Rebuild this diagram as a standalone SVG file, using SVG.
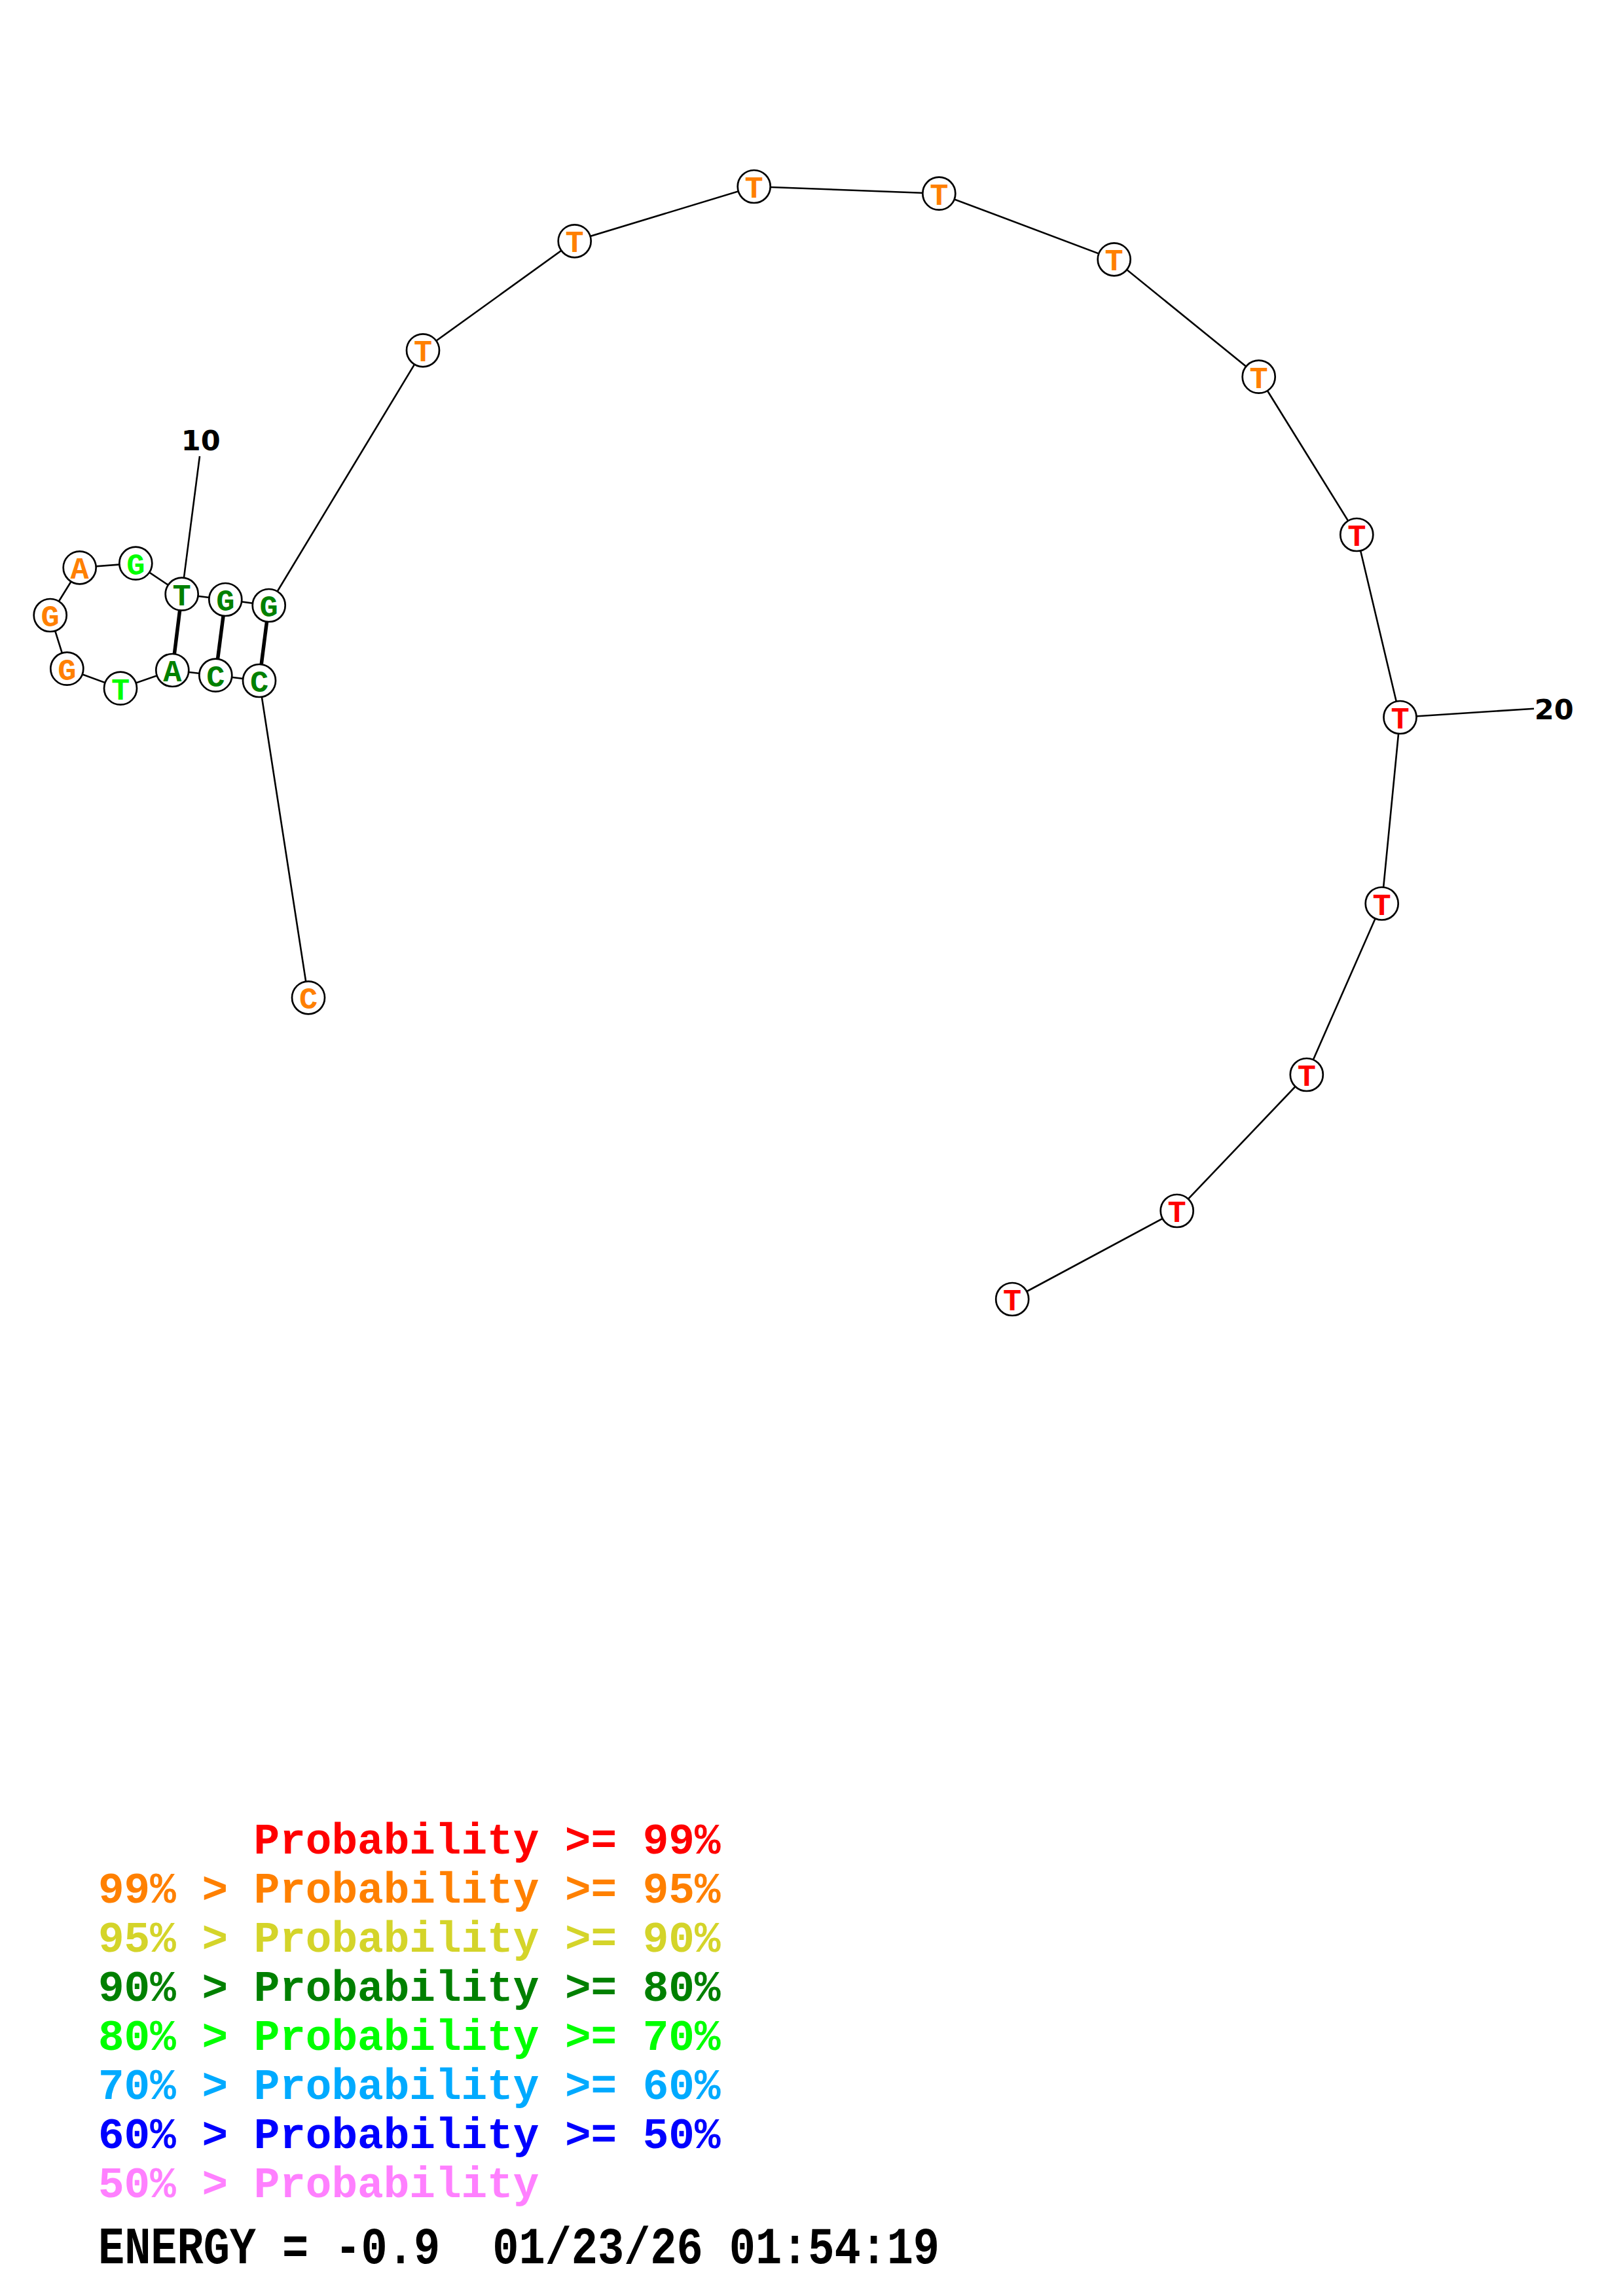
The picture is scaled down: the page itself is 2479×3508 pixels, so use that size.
<svg xmlns="http://www.w3.org/2000/svg" width="2479" height="3508" viewBox="0 0 2479 3508">
<style>
.bb{stroke:#000;stroke-width:2.6;fill:none}
.bp{stroke:#000;stroke-width:5.5;fill:none}
.nd circle{fill:#fff;stroke:#000;stroke-width:2.7}
.nd text{font-family:"Liberation Mono",monospace;font-weight:bold;font-size:47px;text-anchor:middle}
.num{font-family:"DejaVu Sans",sans-serif;font-weight:bold;font-size:43px;text-anchor:middle;fill:#000}
.lg{font-family:"Liberation Mono",monospace;font-weight:bold;font-size:66px}
.or{fill:#FF8000}.dg{fill:#008000}.lgn{fill:#00FF00}.rd{fill:#FF0000}
</style>
<rect width="2479" height="3508" fill="#fff"/>
<g id="connectors">
<polyline class="bb" points="471,1524.3 396,1040 329.3,1031.7 263.3,1024 184,1051.7 102.3,1021.7 76.7,940 121.7,867.3 207.3,860.7 277.7,907.7 344.3,916 410.7,925 646,535.3 877.7,368.3 1151.7,285 1434.3,295.7 1701.7,396.3 1922.7,575.7 2072.3,817 2138.5,1096 2110.7,1380.5 1995.8,1642 1797.7,1850 1546.2,1985"/>
<line class="bp" x1="277.7" y1="907.7" x2="263.3" y2="1024"/>
<line class="bp" x1="344.3" y1="916" x2="329.3" y2="1031.7"/>
<line class="bp" x1="410.7" y1="925" x2="396" y2="1040"/>
<line class="bb" x1="277.7" y1="907.7" x2="305" y2="697"/>
<line class="bb" x1="2138.5" y1="1096" x2="2343" y2="1082.7"/>
</g>
<g id="n1" class="nd"><circle cx="471" cy="1524.3" r="25"/><text x="471" y="1541.3" class="or">C</text></g>
<g id="n2" class="nd"><circle cx="396" cy="1040" r="25"/><text x="396" y="1057" class="dg">C</text></g>
<g id="n3" class="nd"><circle cx="329.3" cy="1031.7" r="25"/><text x="329.3" y="1048.7" class="dg">C</text></g>
<g id="n4" class="nd"><circle cx="263.3" cy="1024" r="25"/><text x="263.3" y="1041" class="dg">A</text></g>
<g id="n5" class="nd"><circle cx="184" cy="1051.7" r="25"/><text x="184" y="1068.7" class="lgn">T</text></g>
<g id="n6" class="nd"><circle cx="102.3" cy="1021.7" r="25"/><text x="102.3" y="1038.7" class="or">G</text></g>
<g id="n7" class="nd"><circle cx="76.7" cy="940" r="25"/><text x="76.7" y="957" class="or">G</text></g>
<g id="n8" class="nd"><circle cx="121.7" cy="867.3" r="25"/><text x="121.7" y="884.3" class="or">A</text></g>
<g id="n9" class="nd"><circle cx="207.3" cy="860.7" r="25"/><text x="207.3" y="877.7" class="lgn">G</text></g>
<g id="n10" class="nd"><circle cx="277.7" cy="907.7" r="25"/><text x="277.7" y="924.7" class="dg">T</text></g>
<g id="n11" class="nd"><circle cx="344.3" cy="916" r="25"/><text x="344.3" y="933" class="dg">G</text></g>
<g id="n12" class="nd"><circle cx="410.7" cy="925" r="25"/><text x="410.7" y="942" class="dg">G</text></g>
<g id="n13" class="nd"><circle cx="646" cy="535.3" r="25"/><text x="646" y="552.3" class="or">T</text></g>
<g id="n14" class="nd"><circle cx="877.7" cy="368.3" r="25"/><text x="877.7" y="385.3" class="or">T</text></g>
<g id="n15" class="nd"><circle cx="1151.7" cy="285" r="25"/><text x="1151.7" y="302" class="or">T</text></g>
<g id="n16" class="nd"><circle cx="1434.3" cy="295.7" r="25"/><text x="1434.3" y="312.7" class="or">T</text></g>
<g id="n17" class="nd"><circle cx="1701.7" cy="396.3" r="25"/><text x="1701.7" y="413.3" class="or">T</text></g>
<g id="n18" class="nd"><circle cx="1922.7" cy="575.7" r="25"/><text x="1922.7" y="592.7" class="or">T</text></g>
<g id="n19" class="nd"><circle cx="2072.3" cy="817" r="25"/><text x="2072.3" y="834" class="rd">T</text></g>
<g id="n20" class="nd"><circle cx="2138.5" cy="1096" r="25"/><text x="2138.5" y="1113" class="rd">T</text></g>
<g id="n21" class="nd"><circle cx="2110.7" cy="1380.5" r="25"/><text x="2110.7" y="1397.5" class="rd">T</text></g>
<g id="n22" class="nd"><circle cx="1995.8" cy="1642" r="25"/><text x="1995.8" y="1659" class="rd">T</text></g>
<g id="n23" class="nd"><circle cx="1797.7" cy="1850" r="25"/><text x="1797.7" y="1867" class="rd">T</text></g>
<g id="n24" class="nd"><circle cx="1546.2" cy="1985" r="25"/><text x="1546.2" y="2002" class="rd">T</text></g>
<g id="labels">
<text class="num" x="306.7" y="688.3">10</text>
<text class="num" x="2373.7" y="1099.3">20</text>
</g>
<g id="legend">
<text class="lg" x="387.6" y="2831.7" fill="#FF0000">Probability &gt;= 99%</text>
<text class="lg" x="150" y="2906.7" fill="#FF8000">99% &gt; Probability &gt;= 95%</text>
<text class="lg" x="150" y="2981.7" fill="#D4D42A">95% &gt; Probability &gt;= 90%</text>
<text class="lg" x="150" y="3056.7" fill="#008000">90% &gt; Probability &gt;= 80%</text>
<text class="lg" x="150" y="3131.7" fill="#00FF00">80% &gt; Probability &gt;= 70%</text>
<text class="lg" x="150" y="3206.7" fill="#00AAFF">70% &gt; Probability &gt;= 60%</text>
<text class="lg" x="150" y="3281.7" fill="#0000FF">60% &gt; Probability &gt;= 50%</text>
<text class="lg" x="150" y="3356.7" fill="#FF80FF">50% &gt; Probability</text>
<text x="150" y="3458" font-family="Liberation Mono, monospace" font-weight="bold" font-size="80" fill="#000" textLength="1285" lengthAdjust="spacingAndGlyphs" xml:space="preserve">ENERGY = -0.9  01/23/26 01:54:19</text>
</g>
</svg>
